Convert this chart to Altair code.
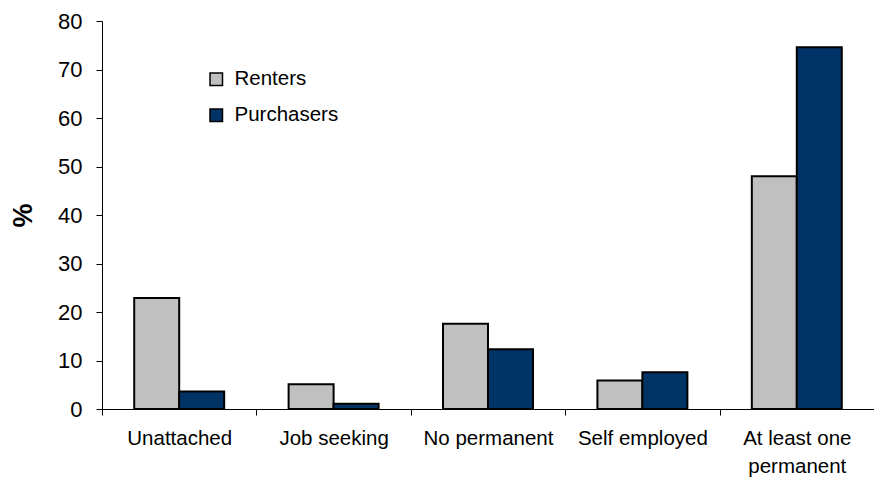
import altair as alt
import pandas as pd

categories = ["Unattached", "Job seeking", "No permanent", "Self employed", "At least one permanent"]
series_names = ["Renters", "Purchasers"]
renters = [22.9, 5.1, 17.6, 5.9, 48.0]
purchasers = [3.6, 1.1, 12.3, 7.6, 74.6]
y_ticks = [0, 10, 20, 30, 40, 50, 60, 70, 80]
colors = ["#c0c0c0", "#003366"]

rows = []
for c, r, p in zip(categories, renters, purchasers):
    rows.append({"category": c, "series": "Renters", "value": r})
    rows.append({"category": c, "series": "Purchasers", "value": p})
df = pd.DataFrame(rows)

FONT = "Liberation Sans"

chart = alt.Chart(df).mark_bar(stroke="black", strokeWidth=2).encode(
    x=alt.X(
        "category:N",
        sort=categories,
        scale=alt.Scale(paddingInner=0, paddingOuter=0),
        axis=alt.Axis(
            title=None,
            labelAngle=0,
            tickBand="extent",
            tickSize=6,
            tickColor="black",
            domainColor="black",
            labelFontSize=20.5,
            labelFont=FONT,
            labelColor="black",
            labelPadding=13,
            labelLineHeight=28,
            labelExpr="datum.label == 'At least one permanent' ? ['At least one', 'permanent'] : datum.label",
        ),
    ),
    xOffset=alt.XOffset(
        "series:N",
        sort=series_names,
        scale=alt.Scale(paddingInner=0, paddingOuter=0.716),
    ),
    y=alt.Y(
        "value:Q",
        scale=alt.Scale(domain=[0, 80], nice=False),
        axis=alt.Axis(
            title="%",
            values=y_ticks,
            grid=False,
            tickSize=6,
            tickColor="black",
            domainColor="black",
            labelFontSize=22,
            labelFont=FONT,
            labelColor="black",
            labelPadding=14,
            titleFont=FONT,
            titleFontSize=27,
            titleFontWeight="bold",
            titleColor="black",
            titlePadding=20,
        ),
    ),
    color=alt.Color(
        "series:N",
        sort=series_names,
        scale=alt.Scale(domain=series_names, range=colors),
        legend=alt.Legend(
            title=None,
            orient="none",
            legendX=104,
            legendY=48,
            symbolType="square",
            symbolSize=156,
            symbolStrokeColor="black",
            symbolStrokeWidth=1.5,
            symbolOpacity=1,
            labelFont=FONT,
            labelFontSize=20.5,
            labelColor="black",
            labelOffset=8,
            rowPadding=15,
        ),
    ),
).properties(
    width=772,
    height=388,
    autosize=alt.AutoSizeParams(type="none"),
    padding={"left": 102, "top": 21, "right": 0, "bottom": 72},
).configure_view(stroke=None).configure_axis(domainWidth=1, tickWidth=1)

chart.save("out.html", embed_options={"renderer": "svg", "actions": False})
